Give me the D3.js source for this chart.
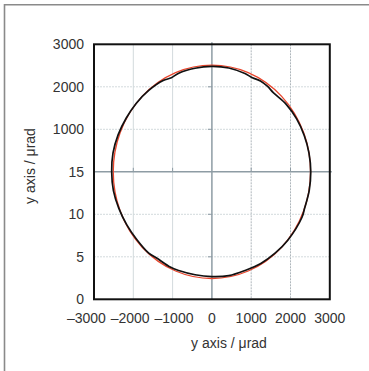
<!DOCTYPE html>
<html>
<head>
<meta charset="utf-8">
<script src="https://cdn.jsdelivr.net/npm/d3@7"></script>
<style>
  html, body { margin: 0; padding: 0; background: #fff; }
  svg { display: block; }
  text { font-family: "Liberation Sans", Arial, Helvetica, sans-serif; fill: #333; }
</style>
</head>
<body>
<svg id="chart" width="369" height="371"></svg>
<script>
// ---- data ----
const xTicks = [-3000, -2000, -1000, 0, 1000, 2000, 3000];
const xTickLabels = ["–3000", "–2000", "–1000", "0", "1000", "2000", "3000"];
const yTicks = [-3000, -2000, -1000, 0, 1000, 2000, 3000];
const yTickLabels = ["0", "5", "10", "15", "1000", "2000", "3000"];
const xAxisTitle = "y axis / μrad";
const yAxisTitle = "y axis / μrad";

// measured trajectory (black), read in polar form: angle (deg) and radius (µrad)
const measuredAngle = [0, 10, 20, 30, 40, 50, 55, 60, 65, 70, 80, 90, 100, 110, 115, 120, 130, 140, 150, 160, 170, 180, 190, 200, 210, 220, 230, 235, 245, 250, 260, 270, 280, 290, 300, 310, 320, 335, 340, 350];
const measuredRadius = [2515, 2510, 2500, 2490, 2470, 2430, 2460, 2470, 2440, 2460, 2480, 2480, 2475, 2470, 2440, 2480, 2500, 2510, 2520, 2540, 2555, 2550, 2545, 2520, 2500, 2490, 2500, 2470, 2480, 2470, 2460, 2465, 2480, 2470, 2490, 2500, 2515, 2530, 2510, 2515];

// fitted circle (red)
const fitCenterX = 0;
const fitCenterY = 0;
const fitRadius = 2510;

// ---- chart ----
const svg = d3.select("#chart");
const x = d3.scaleLinear().domain([-3000, 3000]).range([94, 329.8]);
const y = d3.scaleLinear().domain([-3000, 3000]).range([299.3, 44.3]);

// outer frame (left + top)
svg.append("path")
  .attr("d", `M4.5,371 L4.5,4.8 L369,4.8`)
  .attr("fill", "none").attr("stroke", "#8a8a8a").attr("stroke-width", 1.6);

// grid
const g = svg.append("g");
xTicks.filter(v => v !== 0 && Math.abs(v) !== 3000).forEach(v => {
  g.append("line")
    .attr("x1", x(v)).attr("x2", x(v)).attr("y1", y(3000)).attr("y2", y(-3000))
    .attr("stroke", v > 0 ? "#aeb6bb" : "#d3dadd").attr("stroke-width", 1)
    .attr("stroke-dasharray", v > 0 ? "2,1" : null);
});
yTicks.filter(v => v !== 0 && Math.abs(v) !== 3000).forEach(v => {
  g.append("line")
    .attr("x1", x(-3000)).attr("x2", x(3000)).attr("y1", y(v)).attr("y2", y(v))
    .attr("stroke", "#d3dadd").attr("stroke-width", 1).attr("stroke-dasharray", "2,1");
});
// center axes
g.append("line").attr("x1", x(0)).attr("x2", x(0)).attr("y1", y(3000) - 2).attr("y2", y(-3000))
  .attr("stroke", "#8e9ca4").attr("stroke-width", 1.5);
g.append("line").attr("x1", x(-3000)).attr("x2", x(3000) + 2).attr("y1", y(0)).attr("y2", y(0))
  .attr("stroke", "#8e9ca4").attr("stroke-width", 1.5);
// small ticks on center axes
xTicks.filter(v => v !== 0 && Math.abs(v) !== 3000).forEach(v => {
  g.append("line").attr("x1", x(v)).attr("x2", x(v)).attr("y1", y(0)).attr("y2", y(0) - 4)
    .attr("stroke", "#8e9ca4").attr("stroke-width", 1);
});
yTicks.filter(v => v !== 0 && Math.abs(v) !== 3000).forEach(v => {
  g.append("line").attr("x1", x(0)).attr("x2", x(0) - 4).attr("y1", y(v)).attr("y2", y(v))
    .attr("stroke", "#8e9ca4").attr("stroke-width", 1);
});

// fitted circle (red)
svg.append("ellipse")
  .attr("cx", x(fitCenterX)).attr("cy", y(fitCenterY))
  .attr("rx", x(fitCenterX + fitRadius) - x(fitCenterX))
  .attr("ry", y(fitCenterY) - y(fitCenterY + fitRadius))
  .attr("fill", "none").attr("stroke", "#e8452c").attr("stroke-width", 1.3);

// measured path (black)
const pts = measuredAngle.map((a, i) => {
  const t = a * Math.PI / 180, r = measuredRadius[i];
  return [x(r * Math.cos(t)), y(r * Math.sin(t))];
});
svg.append("path")
  .attr("d", d3.line().curve(d3.curveCatmullRomClosed.alpha(0.5))(pts))
  .attr("fill", "none").attr("stroke", "#111").attr("stroke-width", 1.7)
  .attr("stroke-linejoin", "round");

// plot frame
svg.append("rect")
  .attr("x", x(-3000)).attr("y", y(3000))
  .attr("width", x(3000) - x(-3000)).attr("height", y(-3000) - y(3000))
  .attr("fill", "none").attr("stroke", "#111").attr("stroke-width", 2);

// tick labels (negative labels spread slightly leftwards, as in the original)
svg.append("g").selectAll("text").data(xTicks).join("text")
  .attr("x", d => d < 0 ? x(d) + 1.4 + (d / 1000 + 1) * 4.5 : x(d))
  .attr("y", 323)
  .attr("text-anchor", "middle").attr("font-size", 14)
  .text((d, i) => xTickLabels[i]);
svg.append("g").selectAll("text").data(yTicks).join("text")
  .attr("x", 84).attr("y", d => y(d) + 5)
  .attr("text-anchor", "end").attr("font-size", 14)
  .text((d, i) => yTickLabels[i]);

// axis titles
svg.append("text").attr("x", 229).attr("y", 348).attr("text-anchor", "middle")
  .attr("font-size", 14).text(xAxisTitle);
svg.append("text").attr("transform", "translate(35,166) rotate(-90)").attr("text-anchor", "middle")
  .attr("font-size", 14).text(yAxisTitle);
</script>
</body>
</html>
